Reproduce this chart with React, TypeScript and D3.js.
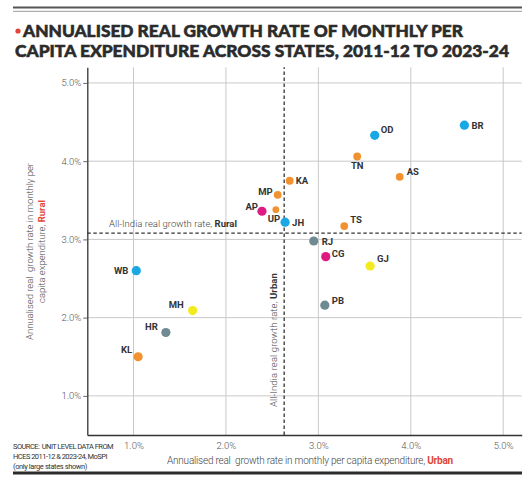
import React, { useEffect, useRef } from 'react';
import * as d3 from 'd3';

// state codes with urban (x) and rural (y) annualised real growth, %
const states = ['BR', 'OD', 'TN', 'AS', 'KA', 'MP', 'UP', 'AP', 'JH', 'TS', 'RJ', 'CG', 'GJ', 'PB', 'WB', 'MH', 'HR', 'KL'];
const urbanGrowth = [4.58, 3.61, 3.42, 3.88, 2.69, 2.56, 2.54, 2.39, 2.64, 3.28, 2.95, 3.08, 3.56, 3.07, 1.03, 1.64, 1.35, 1.05];
const ruralGrowth = [4.46, 4.33, 4.06, 3.8, 3.75, 3.57, 3.38, 3.36, 3.22, 3.17, 2.98, 2.78, 2.66, 2.16, 2.6, 2.09, 1.81, 1.5];
const cluster = ['b', 'b', 'o', 'o', 'o', 'o', 'o', 'm', 'b', 'o', 'g', 'm', 'y', 'g', 'b', 'y', 'g', 'o'];

const xTicks = [1, 2, 3, 4, 5];
const yTicks = [1, 2, 3, 4, 5];
const allIndiaUrban = 2.63;
const allIndiaRural = 3.08;

const titleLines = ['ANNUALISED REAL GROWTH RATE OF MONTHLY PER', 'CAPITA EXPENDITURE ACROSS STATES, 2011-12 TO 2023-24'];
const sourceLines = ['SOURCE:  UNIT LEVEL DATA FROM', 'HCES 2011-12 & 2023-24, MoSPI', '(only large states shown)'];

// where each label sits relative to its dot
const labelPos: Record<string, [number, number, string]> = {
  BR: [7, 0, 'start'], OD: [6, -6, 'start'], TN: [0, 9, 'middle'], AS: [7, -5, 'start'],
  KA: [6, 0, 'start'], MP: [-5, -3, 'end'], UP: [-2, 9, 'middle'], AP: [-4, -5, 'end'],
  JH: [7, 0, 'start'], TS: [6, -7, 'start'], RJ: [8, 1, 'start'], CG: [6, -3, 'start'],
  GJ: [7, -7, 'start'], PB: [7, -5, 'start'], WB: [-8, 0, 'end'], MH: [-9, -6, 'end'],
  HR: [-8, -6, 'end'], KL: [-6, -7, 'end'],
};

const W = 532;
const H = 482;
const FONT = 'Roboto, "Liberation Sans", sans-serif';
const HEAVY = 'Lato, Inter, Roboto, sans-serif';
const RED = '#e0463a';

type Sel = d3.Selection<any, unknown, null, undefined>;

// tighten letter spacing so a text runs to the given length
const squeeze = (t: Sel, target: number) => {
  const node = t.node() as SVGTextElement;
  const natural = node.getComputedTextLength();
  const n = (node.textContent || '').length;
  t.attr('letter-spacing', ((target - natural) / n).toFixed(3));
  return t;
};

export default function App() {
  const ref = useRef<SVGSVGElement>(null);

  useEffect(() => {
    if (!ref.current) return;
    const svg = d3.select(ref.current);
    svg.selectAll('*').remove();

    const x = d3.scaleLinear().domain([0.5, 5.2]).range([87.3, 521.7]);
    const y = d3.scaleLinear().domain([0.5, 5.2]).range([435, 67.3]);
    const colour = d3.scaleOrdinal<string, string>()
      .domain(['b', 'o', 'm', 'g', 'y'])
      .range(['#19a8e4', '#f1912f', '#e01a83', '#6e8b93', '#f3ea1f']);

    const label = (g: Sel, tx: number, ty: number, size: number, weight: number, fill: string, rotate = false) =>
      g.append('text')
        .attr('transform', rotate ? `translate(${tx},${ty}) rotate(-90)` : `translate(${tx},${ty})`)
        .attr('font-family', FONT).attr('font-size', size).attr('font-weight', weight)
        .attr('fill', fill).style('white-space', 'pre');

    // top rules
    svg.append('line').attr('x1', 13).attr('x2', 522).attr('y1', 7.5).attr('y2', 7.5)
      .attr('stroke', '#555').attr('stroke-width', 2);
    svg.append('line').attr('x1', 13).attr('x2', 522).attr('y1', 11.3).attr('y2', 11.3)
      .attr('stroke', '#999').attr('stroke-width', 1);

    // title
    svg.append('circle').attr('cx', 18).attr('cy', 31).attr('r', 2.6).attr('fill', RED);
    [[23, 36.6, 440], [15, 57, 494]].forEach(([tx, ty, len], i) => {
      svg.append('text').attr('x', tx).attr('y', ty)
        .attr('font-family', HEAVY).attr('font-size', 17.5).attr('font-weight', 900)
        .attr('fill', '#2b2b2b').attr('stroke', '#2b2b2b').attr('stroke-width', 0.55)
        .attr('textLength', len).attr('lengthAdjust', 'spacingAndGlyphs')
        .text(titleLines[i]);
    });

    const plot = svg.append('g');

    // grid
    plot.selectAll('line.hgrid').data(yTicks).join('line').attr('class', 'hgrid')
      .attr('x1', x(0.5)).attr('x2', x(5.2)).attr('y1', d => y(d)).attr('y2', d => y(d))
      .attr('stroke', '#c9c9c9').attr('stroke-width', 1);
    plot.selectAll('line.vgrid').data(xTicks).join('line').attr('class', 'vgrid')
      .attr('x1', d => x(d)).attr('x2', d => x(d)).attr('y1', y(0.5)).attr('y2', y(5.2))
      .attr('stroke', '#c9c9c9').attr('stroke-width', 1);

    // axes
    const yAxis = plot.append('g').attr('transform', `translate(${x(0.5)},0)`)
      .call(d3.axisLeft(y).tickValues(yTicks).tickSizeInner(4).tickSizeOuter(0).tickPadding(2)
        .tickFormat(d => `${(+d).toFixed(1)}%`));
    const xAxis = plot.append('g').attr('transform', `translate(0,${y(0.5)})`)
      .call(d3.axisBottom(x).tickValues(xTicks).tickSizeInner(0).tickSizeOuter(0).tickPadding(7)
        .tickFormat(d => `${(+d).toFixed(1)}%`));
    [yAxis, xAxis].forEach(a => {
      a.select('.domain').attr('stroke', '#333').attr('stroke-width', 1.3);
      a.selectAll('.tick line').attr('stroke', '#666');
      a.selectAll('.tick text').attr('font-family', FONT).attr('font-weight', 300)
        .attr('font-size', 9.5).attr('fill', '#555');
    });

    // all-India reference lines
    plot.append('line').attr('x1', x(0.5)).attr('x2', x(5.2))
      .attr('y1', y(allIndiaRural)).attr('y2', y(allIndiaRural))
      .attr('stroke', '#333').attr('stroke-width', 1.3).attr('stroke-dasharray', '3.5,2.5');
    plot.append('line').attr('x1', x(allIndiaUrban)).attr('x2', x(allIndiaUrban))
      .attr('y1', y(0.5)).attr('y2', y(5.2))
      .attr('stroke', '#333').attr('stroke-width', 1.3).attr('stroke-dasharray', '3.5,2.5');

    const ruralNote = label(plot, 109, y(allIndiaRural) - 6, 9.5, 300, '#444');
    ruralNote.append('tspan').text('All-India real growth rate, ');
    ruralNote.append('tspan').attr('font-weight', 700).attr('fill', '#333').text('Rural');
    squeeze(ruralNote, 128);

    const urbanNote = label(plot, x(allIndiaUrban) - 7.5, 407, 9.5, 300, '#444', true);
    urbanNote.append('tspan').text('All-India real growth rate, ');
    urbanNote.append('tspan').attr('font-weight', 700).attr('fill', '#333').text('Urban');
    squeeze(urbanNote, 134);

    // dots
    const rows = states.map((s, i) => ({ s, u: urbanGrowth[i], r: ruralGrowth[i], c: cluster[i] }));
    plot.selectAll('circle.dot').data(rows).join('circle').attr('class', 'dot')
      .attr('cx', d => x(d.u)).attr('cy', d => y(d.r))
      .attr('r', d => (d.s === 'UP' ? 3.4 : d.c === 'o' && d.s !== 'KL' ? 3.9 : 4.6))
      .attr('fill', d => colour(d.c));

    plot.selectAll('text.lab').data(rows).join('text').attr('class', 'lab')
      .attr('x', d => x(d.u) + labelPos[d.s][0])
      .attr('y', d => y(d.r) + labelPos[d.s][1])
      .attr('dy', '0.36em')
      .attr('text-anchor', d => labelPos[d.s][2])
      .attr('font-family', FONT).attr('font-weight', 700).attr('font-size', 9.5)
      .attr('fill', '#333').text(d => d.s);

    // axis titles
    const yt1 = label(svg, 33, 340, 9.5, 300, '#444', true).text('Annualised real  growth rate in monthly per');
    squeeze(yt1, 177);
    const yt2 = label(svg, 45, 303, 9.5, 300, '#444', true);
    yt2.append('tspan').text('capita expenditure, ');
    yt2.append('tspan').attr('font-weight', 700).attr('fill', RED).text('Rural');
    squeeze(yt2, 103);

    const xt = label(svg, 167, 464, 10, 300, '#444');
    xt.append('tspan').text('Annualised real  growth rate in monthly per capita expenditure, ');
    xt.append('tspan').attr('font-weight', 700).attr('fill', RED).text('Urban');
    squeeze(xt, 286);

    // source note
    const widths = [100, 94, 74];
    sourceLines.forEach((line, i) => {
      squeeze(label(svg, 13, 449 + i * 10, 7.5, 400, '#333').text(line), widths[i]);
    });

    // bottom rule
    svg.append('line').attr('x1', 13).attr('x2', 522).attr('y1', 473).attr('y2', 473)
      .attr('stroke', '#2b2b2b').attr('stroke-width', 3);
  }, []);

  return (
    <svg
      ref={ref}
      width={W}
      height={H}
      viewBox={`0 0 ${W} ${H}`}
      style={{ position: 'absolute', left: 0, top: 0, background: '#fff' }}
    />
  );
}
